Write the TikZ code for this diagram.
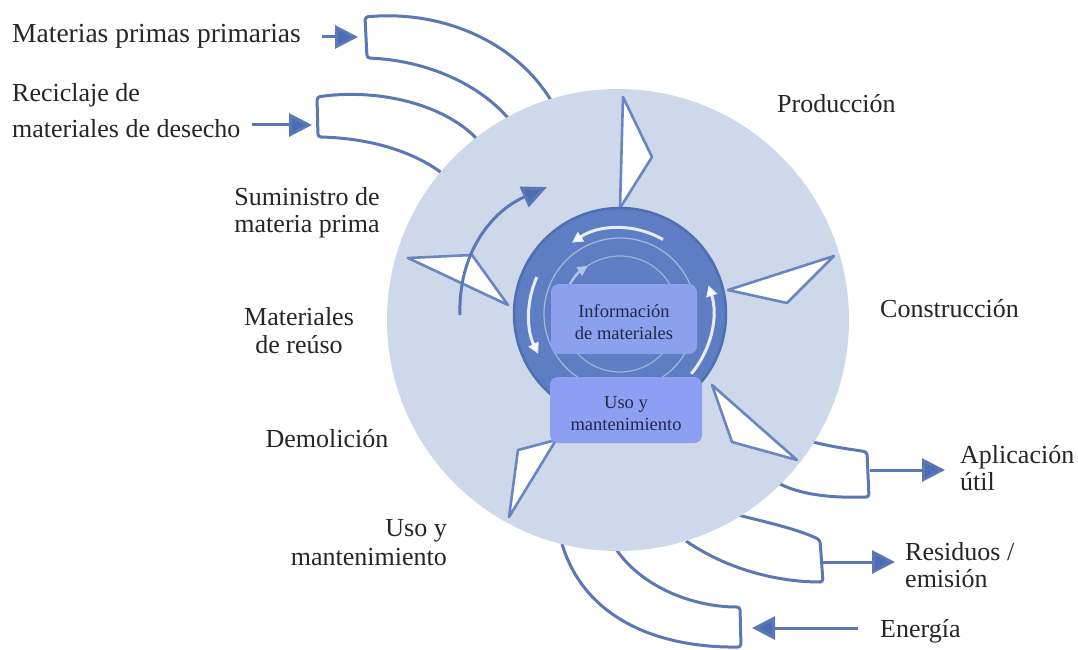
\documentclass[tikz,border=0pt]{standalone}
\usepackage{fontspec}
\setmainfont{Liberation Serif}
\newfontfamily\tnr{Liberation Serif}
\usetikzlibrary{arrows.meta}
\definecolor{lightc}{HTML}{CDD8EB}
\definecolor{darkc}{HTML}{5D7EC2}
\definecolor{darkedge}{HTML}{4F6FB2}
\definecolor{linec}{HTML}{5B78B4}
\definecolor{kitec}{HTML}{6A86C0}
\definecolor{headc}{HTML}{4A6DB5}
\definecolor{boxc}{HTML}{8CA1EE}
\definecolor{boxd}{HTML}{8E9FF3}
\definecolor{palec}{HTML}{B4C6EC}
\definecolor{txt}{HTML}{262626}
\definecolor{intxt}{HTML}{24284A}
\begin{document}
\begin{tikzpicture}[x=1pt,y=1pt,
  lbl/.style={font=\tnr\fontsize{26}{30}\selectfont, text=txt, inner sep=0pt},
  biglbl/.style={font=\tnr\fontsize{27.5}{30}\selectfont, text=txt, inner sep=0pt},
  inlbl/.style={font=\tnr\fontsize{18.5}{22}\selectfont, text=intxt, inner sep=0pt, align=center},
  band/.style={draw=linec, line width=3pt, rounded corners=3pt},
  kite/.style={draw=kitec, fill=white, line width=2.6pt, line join=round},
  arr/.style={draw=linec, line width=3pt, -{Triangle[length=23pt,width=23pt,fill=headc]}},
  warr/.style={draw=white, line width=3pt, draw opacity=0.85, -{Triangle[length=11pt,width=11pt]}},
  infobox/.style={fill=#1, rounded corners=8pt, draw=none}]
\useasboundingbox (0,0) rectangle (1078,-650);
\fill[white] (0,0) rectangle (1078,-650);

% bands (drawn before the disc so their ends vanish under it)
\draw[band] (552,-102) .. controls (515,-40) and (440,-10) .. (365,-17) -- (367,-58) .. controls (420,-60) and (475,-80) .. (508,-118);
\draw[band] (477,-139) .. controls (445,-105) and (380,-88) .. (317,-97) -- (318,-137) .. controls (370,-138) and (415,-152) .. (443,-174);
\draw[band] (806,-440) .. controls (830,-447) and (850,-449) .. (867,-452) -- (869,-497) .. controls (830,-498) and (800,-495) .. (776,-482);
\draw[band] (738,-515) .. controls (770,-523) and (800,-530) .. (820,-540) -- (823,-582) .. controls (775,-582) and (725,-568) .. (686,-541);
\draw[band] (616,-549) .. controls (640,-585) and (690,-607) .. (740,-607) -- (741,-647) .. controls (660,-648) and (585,-620) .. (562,-544);

% outer disc
\node[circle, fill=lightc, minimum size=462pt, inner sep=0pt] (disc) at (618,-320) {};

% kites
\draw[kite] (623,-97) -- (652,-157) -- (620,-208) -- cycle;
\draw[kite] (728,-290) -- (834,-256) -- (787,-303) -- cycle;
\draw[kite] (712,-385) -- (732,-442) -- (797,-460) -- cycle;
\draw[kite] (556,-440) -- (518,-450) -- (509,-517) -- cycle;
\draw[kite] (408,-258) -- (472,-255) -- (508,-305) -- cycle;

% curved supply arrow
\coordinate (cs) at (460,-315);
\coordinate (ce) at (547,-187);
\draw[draw=linec, line width=3pt, -{Triangle[length=25pt,width=22pt,fill=headc]}] (cs) .. controls (458,-255) and (490,-212) .. (ce);

% core
\node[circle, fill=darkc, draw=darkedge, line width=2.5pt, minimum size=212pt, inner sep=0pt] (core) at (620,-314) {};
\draw[white, opacity=0.45, line width=1.2pt] (core.center) circle[radius=76];
\draw[white, opacity=0.4, line width=1.2pt] (core.center) circle[radius=58];
\draw[warr] ([shift={(60:86)}]core.center) arc[start angle=60, end angle=124, radius=86];
\draw[warr] ([shift={(-40:93)}]core.center) arc[start angle=-40, end angle=18, radius=93];
\draw[warr] ([shift={(156:91)}]core.center) arc[start angle=156, end angle=206, radius=91];
\draw[draw=palec, line width=2pt, -{Triangle[length=10pt,width=10pt]}] ([shift={(168:58)}]core.center) arc[start angle=168, end angle=124, radius=58];

% inner boxes
\node[infobox=boxc, minimum width=146pt, minimum height=70pt] (infob) at (624,-319) {};
\node[inlbl] (info) at (624,-322) {Información\\de materiales};
\node[infobox=boxd, minimum width=152pt, minimum height=66pt] (usob) at (626,-410) {};
\node[inlbl] (usoin) at (626,-414) {Uso y\\mantenimiento};

% labels
\node[biglbl, anchor=base west] (mpp) at (12,-43) {Materias primas primarias};
\node[lbl, anchor=base west] (rec1) at (12,-102) {Reciclaje de};
\node[lbl, anchor=base west] (rec2) at (12,-137) {materiales de desecho};
\node[lbl, anchor=base west] (prod) at (777,-113) {Producción};
\node[lbl, anchor=base] (sum1) at (307,-205) {Suministro de};
\node[lbl, anchor=base] (sum2) at (307,-232) {materia prima};
\node[lbl, anchor=base] (mat1) at (299,-325) {Materiales};
\node[lbl, anchor=base] (mat2) at (299,-353) {de reúso};
\node[lbl, anchor=base west] (cons) at (880,-317) {Construcción};
\node[lbl, anchor=base] (dem) at (327,-447) {Demolición};
\node[lbl, anchor=base east] (uso1) at (447,-536) {Uso y};
\node[lbl, anchor=base east] (uso2) at (447,-565) {mantenimiento};
\node[lbl, anchor=base west] (apl1) at (960,-463) {Aplicación};
\node[lbl, anchor=base west] (apl2) at (960,-490) {útil};
\node[lbl, anchor=base west] (res1) at (905,-560) {Residuos /};
\node[lbl, anchor=base west] (res2) at (905,-587) {emisión};
\node[lbl, anchor=base west] (ene) at (880,-637) {Energía};

% straight arrows
\coordinate (a1s) at (322,-37);  \coordinate (a1e) at (358,-37);
\coordinate (a2s) at (252,-125); \coordinate (a2e) at (312,-125);
\coordinate (a3s) at (870,-470); \coordinate (a3e) at (945,-470);
\coordinate (a4s) at (823,-562); \coordinate (a4e) at (895,-562);
\coordinate (a5s) at (858,-628); \coordinate (a5e) at (752,-628);
\draw[arr] (a1s) -- (a1e);
\draw[arr] (a2s) -- (a2e);
\draw[arr] (a3s) -- (a3e);
\draw[arr] (a4s) -- (a4e);
\draw[arr] (a5s) -- (a5e);
\end{tikzpicture}
\end{document}
